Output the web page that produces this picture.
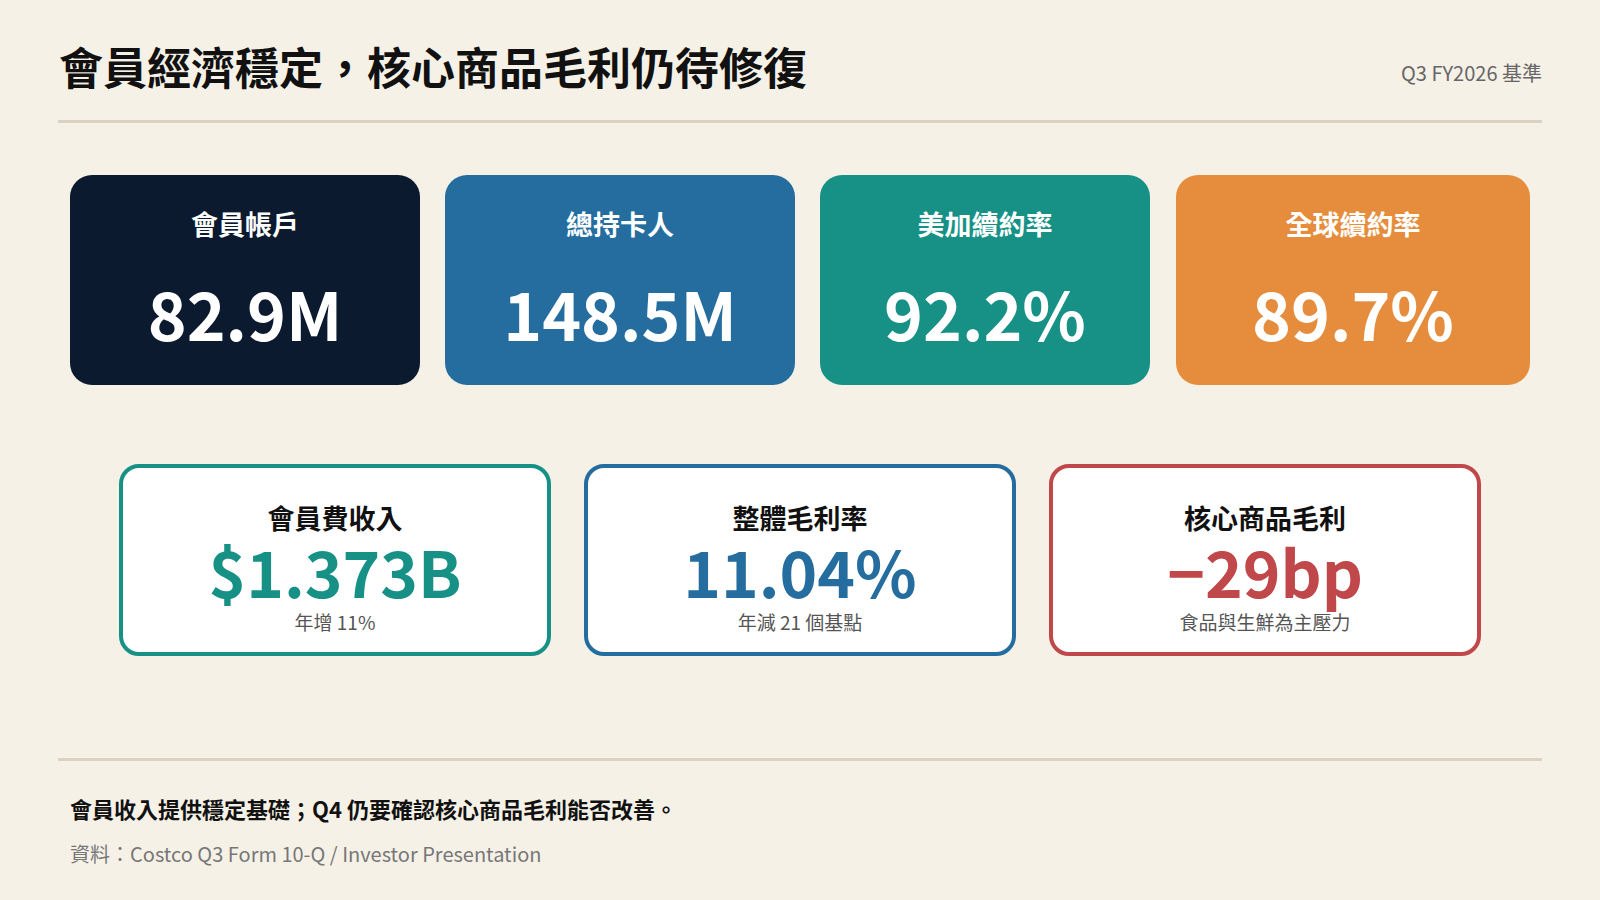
<!DOCTYPE html>
<html><head><meta charset="utf-8">
<script src="https://cdn.jsdelivr.net/npm/chart.js@4.4.0/dist/chart.umd.min.js"></script>
<style>
body{margin:0;width:1600px;height:900px;background:#f6f1e7;font-family:"Noto Sans CJK TC","Noto Sans",sans-serif;position:relative;overflow:hidden;color:#111}
.abs{position:absolute}
.card{position:absolute;box-sizing:border-box;border-radius:22px;text-align:center}
.top .lab{font-size:27px;line-height:34px;font-weight:700;color:#fff;margin-top:32px}
.top .val{font-size:66px;line-height:70px;font-weight:700;color:#fff;margin-top:36px}
.bot{background:#fff;border:4px solid;border-radius:20px}
.bot .lab{font-size:27px;line-height:32px;font-weight:700;color:#111;margin-top:34px}
.bot .val{font-size:64px;font-weight:700;line-height:60px;margin-top:6px}
.bot .sub{font-size:19px;line-height:24px;color:#555;margin-top:10px}
</style></head><body>
<div class="abs" style="left:59px;top:38px;font-size:44px;line-height:56px;font-weight:700">會員經濟穩定，核心商品毛利仍待修復</div>
<div class="abs" style="right:58px;top:58px;font-size:20px;color:#666">Q3 FY2026 基準</div>
<div class="abs" style="left:58px;top:120px;width:1484px;height:3px;background:#dcd2c2"></div>
<div id="cards"></div>
<div class="abs" style="left:58px;top:758px;width:1484px;height:3px;background:#dcd2c2"></div>
<div class="abs" style="left:70px;top:792px;font-size:22px;font-weight:700">會員收入提供穩定基礎；Q4 仍要確認核心商品毛利能否改善。</div>
<div class="abs" style="left:70px;top:839px;font-size:20px;color:#777">資料：Costco Q3 Form 10-Q / Investor Presentation</div>
<canvas id="c" style="display:none"></canvas>
<script>
const topLabels=['會員帳戶','總持卡人','美加續約率','全球續約率'];
const topValues=['82.9M','148.5M','92.2%','89.7%'];
const topColors=['#0b1a2e','#256d9e','#179186','#e58d3d'];
const topX=[[70,420],[445,795],[820,1150],[1176,1530]];
const botLabels=['會員費收入','整體毛利率','核心商品毛利'];
const botValues=['$1.373B','11.04%','−29bp'];
const botNotes=['年增 11%','年減 21 個基點','食品與生鮮為主壓力'];
const botColors=['#179186','#256d9e','#c0474a'];
const botX=[[119,551],[584,1016],[1049,1481]];
let h='';
topLabels.forEach((l,i)=>{
  h+=`<div class="card top" style="left:${topX[i][0]}px;top:175px;width:${topX[i][1]-topX[i][0]}px;height:210px;background:${topColors[i]}"><div class="lab">${l}</div><div class="val">${topValues[i]}</div></div>`;
});
botLabels.forEach((l,i)=>{
  h+=`<div class="card bot" style="left:${botX[i][0]}px;top:464px;width:${botX[i][1]-botX[i][0]}px;height:192px;border-color:${botColors[i]}"><div class="lab">${l}</div><div class="val" style="color:${botColors[i]}">${botValues[i]}</div><div class="sub">${botNotes[i]}</div></div>`;
});
document.getElementById('cards').innerHTML=h;
</script>
</body></html>
